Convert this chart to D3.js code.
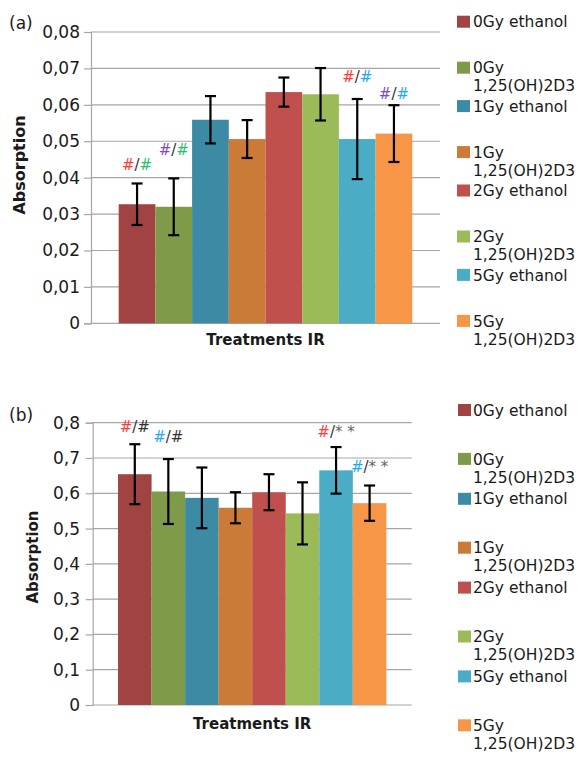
<!DOCTYPE html>
<html>
<head>
<meta charset="utf-8">
<script src="https://cdn.jsdelivr.net/npm/d3@7/dist/d3.min.js"></script>
<style>
  html, body { margin: 0; padding: 0; background: #fff; }
  svg { display: block; }
</style>
</head>
<body>
<div id="chart"></div>
<script>
// ---------------- data ----------------
const categories = [
  "0Gy ethanol", "0Gy 1,25(OH)2D3",
  "1Gy ethanol", "1Gy 1,25(OH)2D3",
  "2Gy ethanol", "2Gy 1,25(OH)2D3",
  "5Gy ethanol", "5Gy 1,25(OH)2D3"
];
// panel (a)
const absorptionA = [0.0327, 0.0320, 0.0559, 0.0506, 0.0635, 0.0629, 0.0506, 0.0521];
const errorA      = [0.0057, 0.0078, 0.0065, 0.0052, 0.0040, 0.0072, 0.0110, 0.0078];
const ticksA      = [0, 0.01, 0.02, 0.03, 0.04, 0.05, 0.06, 0.07, 0.08];
// panel (b)
const absorptionB = [0.654, 0.605, 0.587, 0.559, 0.603, 0.543, 0.665, 0.572];
const errorB      = [0.085, 0.092, 0.086, 0.044, 0.051, 0.088, 0.066, 0.050];
const ticksB      = [0, 0.1, 0.2, 0.3, 0.4, 0.5, 0.6, 0.7, 0.8];
// significance marks: [category index, anchor value, [symbol, tone] ...]
const marksA = [
  [0, 0.0421, [["#", "red"], ["/", "dark"], ["#", "green"]]],
  [1, 0.0462, [["#", "purple"], ["/", "dark"], ["#", "green"]]],
  [6, 0.0663, [["#", "red"], ["/", "dark"], ["#", "cyan"]]],
  [7, 0.0615, [["#", "purple"], ["/", "dark"], ["#", "cyan"]]]
];
const marksB = [
  [0, 0.775, [["#", "red"], ["/#", "dark"]]],
  [1, 0.746, [["#", "cyan"], ["/#", "dark"]]],
  [6, 0.7606, [["#", "red"], ["/", "dark"], ["* *", "gray"]]],
  [7, 0.6615, [["#", "cyan"], ["/", "dark"], ["* *", "gray"]]]
];
const xTitle = "Treatments IR";
const yTitle = "Absorption";

// ---------------- styles ----------------
const barColors = ["#A04342", "#7F9A48", "#3C8AA3", "#CB7A37", "#C0504D", "#9BBB59", "#4BACC6", "#F79646"];
const toneColors = { red: "#FF3B3B", green: "#2DBE6C", purple: "#7A4CC0", cyan: "#1EAAF0", dark: "#333333", gray: "#666666" };
const FONT = "'DejaVu Sans', sans-serif";
const gridColor = "#A6A6A6";

const W = 588, H = 759;
const svg = d3.select("#chart").append("svg").attr("width", W).attr("height", H);

function fmtComma(digits) {
  return v => v === 0 ? "0" : d3.format("." + digits + "f")(v).replace(".", ",");
}

function drawPanel(cfg) {
  const { values, errors, ticks, marks, plot, digits, panelLabel, yTitlePos, legend } = cfg;
  const g = svg.append("g");
  const x = d3.scaleBand().domain(categories).range([plot.l, plot.r]).paddingInner(0).paddingOuter(0.755);
  const y = d3.scaleLinear().domain([0, d3.max(ticks)]).range([plot.b, plot.t]);

  // gridlines
  g.append("g").selectAll("line").data(ticks).join("line")
    .attr("x1", plot.l).attr("x2", plot.r)
    .attr("y1", d => y(d)).attr("y2", d => y(d))
    .attr("stroke", gridColor).attr("stroke-width", 1.2);

  // axis
  const axis = d3.axisLeft(y).tickValues(ticks).tickSize(7)
    .tickPadding(plot.l - 80 - 7).tickFormat(fmtComma(digits));
  const ag = g.append("g").attr("transform", `translate(${plot.l},0)`).call(axis);
  ag.select(".domain").attr("stroke", gridColor).attr("stroke-width", 1.2);
  ag.selectAll(".tick line").attr("stroke", gridColor).attr("stroke-width", 1.2);
  ag.selectAll(".tick text").attr("font-family", FONT).attr("font-size", 17).attr("fill", "#1a1a1a");

  // bars
  g.append("g").selectAll("rect").data(values).join("rect")
    .attr("x", (d, i) => x(categories[i]))
    .attr("width", x.bandwidth())
    .attr("y", d => y(d))
    .attr("height", d => y(0) - y(d))
    .attr("fill", (d, i) => barColors[i]);

  // error bars
  const eg = g.append("g").attr("stroke", "#000").attr("stroke-width", 2.2).attr("fill", "none");
  values.forEach((v, i) => {
    const cx = x(categories[i]) + x.bandwidth() / 2;
    const y1 = y(v + errors[i]), y2 = y(v - errors[i]);
    const cw = 5.5;
    eg.append("line").attr("x1", cx).attr("x2", cx).attr("y1", y1).attr("y2", y2);
    eg.append("line").attr("x1", cx - cw).attr("x2", cx + cw).attr("y1", y1).attr("y2", y1);
    eg.append("line").attr("x1", cx - cw).attr("x2", cx + cw).attr("y1", y2).attr("y2", y2);
  });

  // significance marks
  marks.forEach(([ci, at, parts]) => {
    const t = g.append("text")
      .attr("x", x(categories[ci]) + x.bandwidth() / 2)
      .attr("y", y(at))
      .attr("text-anchor", "middle")
      .attr("font-family", FONT).attr("font-size", 15);
    parts.forEach(([s, tone]) => t.append("tspan").text(s).attr("fill", toneColors[tone]));
  });

  // titles
  g.append("text").text(xTitle)
    .attr("x", (plot.l + plot.r) / 2).attr("y", plot.b + cfg.xTitleGap)
    .attr("text-anchor", "middle").attr("font-family", FONT)
    .attr("font-weight", "bold").attr("font-size", 15).attr("fill", "#1a1a1a");
  g.append("text").text(yTitle)
    .attr("transform", `translate(${yTitlePos.x},${yTitlePos.y}) rotate(-90)`)
    .attr("text-anchor", "middle").attr("font-family", FONT)
    .attr("font-weight", "bold").attr("font-size", yTitlePos.size).attr("fill", "#1a1a1a");

  // panel label
  g.append("text").text(panelLabel.text)
    .attr("x", panelLabel.x).attr("y", panelLabel.y)
    .attr("font-family", FONT).attr("font-size", 17).attr("fill", "#1a1a1a");

  // legend
  const lg = g.append("g");
  categories.forEach((c, i) => {
    const words = c.split(" ");
    const lines = [];
    let cur = "";
    const probe = lg.append("text").attr("font-family", FONT).attr("font-size", 15.5);
    words.forEach(w => {
      const test = cur ? cur + " " + w : w;
      probe.text(test);
      if (cur && probe.node().getComputedTextLength() > W - legend.tx - 2) {
        lines.push(cur); cur = w;
      } else cur = test;
    });
    lines.push(cur);
    probe.remove();
    const cy = legend.y0 + i * legend.step + (lines.length > 1 ? legend.off : 0);
    lg.append("rect").attr("x", legend.sx).attr("y", cy - 6).attr("width", 13).attr("height", 12)
      .attr("fill", barColors[i]);
    const t = lg.append("text").attr("font-family", FONT).attr("font-size", 15.5).attr("fill", "#1a1a1a");
    lines.forEach((ln, k) => {
      t.append("tspan").text(ln).attr("x", legend.tx).attr("y", cy + 5.6 + k * 18);
    });
  });
}

drawPanel({
  values: absorptionA, errors: errorA, ticks: ticksA, marks: marksA, digits: 2,
  plot: { l: 91, r: 440, t: 32, b: 323.3 },
  xTitleGap: 22,
  panelLabel: { text: "(a)", x: 9, y: 29 },
  yTitlePos: { x: 25, y: 165, size: 16 },
  legend: { sx: 457, tx: 473, y0: 21.7, step: 42.2, off: 3.8 }
});

drawPanel({
  values: absorptionB, errors: errorB, ticks: ticksB, marks: marksB, digits: 1,
  plot: { l: 92.7, r: 411.7, t: 422.7, b: 705 },
  xTitleGap: 24,
  panelLabel: { text: "(b)", x: 9, y: 421 },
  yTitlePos: { x: 38, y: 557, size: 15 },
  legend: { sx: 458, tx: 473, y0: 410, step: 44.4, off: 4.5 }
});
</script>
</body>
</html>
